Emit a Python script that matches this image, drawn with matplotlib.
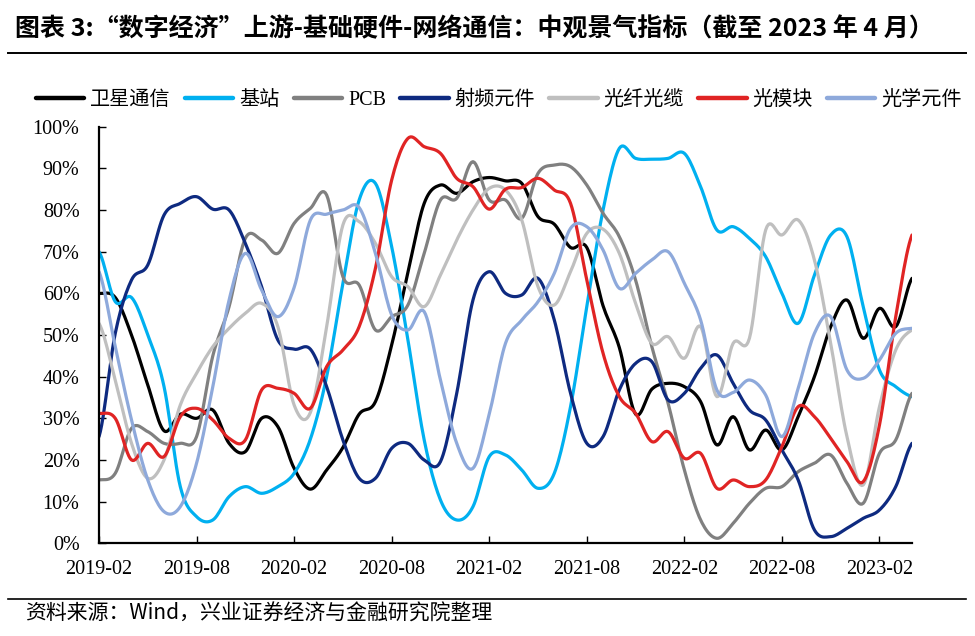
import numpy as np
import matplotlib
matplotlib.use("Agg")
import matplotlib.pyplot as plt
from matplotlib.lines import Line2D

plt.rcParams['font.family'] = ['Noto Sans CJK SC', 'DejaVu Sans']

# monthly values, 2019-02 .. 2023-04 (51 months), in %
sat = [60, 59, 50, 38, 27, 31, 30, 32, 24, 22, 30, 28, 18, 13, 17.6, 23, 31, 34, 47.6, 65,
       81.6, 86, 84, 86.8, 87.8, 87, 86.4, 78.4, 76.6, 71, 71, 57, 47, 31, 37, 38.4, 37.6, 34,
       23.6, 30.4, 22.4, 27.2, 22.4, 30.4, 40, 52, 58.4, 49.2, 56.4, 52, 63.6]
base = [70, 58, 59, 50, 37.6, 13.6, 6.4, 5.6, 11.2, 13.6, 12, 13.6, 16.8, 25, 40, 62.4, 82.4,
        86.4, 71.2, 48.8, 24.8, 10.4, 5.6, 8.8, 20.8, 21.2, 17.6, 13.2, 16.8, 32.8, 56.8, 80,
        94.8, 92.4, 92.2, 92.4, 93.6, 85.6, 75.2, 76, 73.2, 68.8, 60, 52.8, 64.4, 74, 73.6,
        56.8, 41.6, 37.6, 35.2]
pcb = [15.2, 16.8, 27.6, 26.8, 24, 24, 25.6, 45, 56.8, 73.2, 72.8, 69.6, 76.8, 80.4, 83.6, 64,
       62, 51.2, 54.4, 57.2, 69.6, 82.4, 82.8, 91.6, 82.4, 82.4, 78, 88.8, 90.8, 90.4, 86, 79.2,
       73.6, 63.2, 47.2, 33.6, 17.6, 5.6, 1.2, 4.8, 9.6, 13.2, 13.6, 17.2, 19.2, 21.2, 14.4,
       9.6, 21.6, 24.8, 36]
rf = [25.6, 50.4, 63.2, 66.8, 78.8, 81.6, 83.2, 80.2, 80, 72, 61.6, 48.8, 46.6, 46.6, 37.6,
      24.8, 15.6, 15.6, 22.8, 24, 20, 19.6, 36, 58.4, 65.2, 60, 59.6, 63.6, 53.6, 36, 24, 25.6,
      36.8, 43.2, 43.6, 34.4, 36, 42, 45.2, 38.4, 32, 29.6, 22.4, 15.2, 3.2, 1.6, 3.6, 6, 8,
      13.6, 24]
fiber = [52.8, 39.2, 24, 15.6, 20, 33.2, 40.8, 47.2, 51.6, 55.2, 57.6, 52, 33.2, 31.4, 52,
         76.4, 77.2, 72, 64, 61.6, 56.8, 64.4, 72.8, 80, 85.2, 84.8, 77.6, 61.6, 57.2, 65.2,
         74.4, 75.4, 69.6, 57.6, 48, 49.6, 44.4, 52, 35.2, 48, 49.2, 75.2, 74, 77.6, 68, 48,
         25.6, 14, 32.8, 46.4, 51.2]
module = [31.2, 30, 20, 24, 20.8, 30.4, 32.4, 29.6, 25.2, 24.8, 36.8, 37.2, 36, 32.4, 42.4,
          46.4, 52, 66, 87.2, 97.2, 95.2, 93.6, 87.6, 85.6, 80.2, 85, 85.4, 87.6, 84.8, 81.6,
          63.2, 45.6, 35.2, 31.2, 24.4, 26.8, 20.4, 21.6, 13.2, 15.2, 13.6, 15.2, 23.2, 32.8,
          30.4, 25.2, 19.6, 14.8, 28.4, 54.4, 74]
optic = [65.2, 47.2, 29.6, 15.2, 7.6, 8.8, 19.2, 37.6, 58.4, 69.6, 60.8, 54.4, 61.4, 77.6, 79,
         80, 80.6, 69.6, 54.8, 51.2, 55.6, 39.2, 24, 18, 31, 48, 53.6, 58, 64.8, 75.6, 76,
         70.4, 61.2, 64.8, 68, 70, 62.4, 53.6, 36.8, 36.2, 39.2, 35.6, 25.6, 37.2, 50.4, 54.4,
         41.6, 39.6, 44, 50.4, 51.6]

names = ['卫星通信', '基站', 'PCB', '射频元件', '光纤光缆', '光模块', '光学元件']
colors = ['#000000', '#00B0F0', '#808080', '#0E2A80', '#BFBFBF', '#E02424', '#8EA9DB']
xlabels = ['2019-02', '2019-08', '2020-02', '2020-08', '2021-02',
           '2021-08', '2022-02', '2022-08', '2023-02']


def smooth(y, n=12):
    # catmull-rom, like excel's smoothed line
    y = np.asarray(y, float) / 100
    p = np.concatenate([[y[0]], y, [y[-1]]])
    t = np.linspace(0, 1, n, endpoint=False)
    out = []
    for i in range(len(y) - 1):
        p0, p1, p2, p3 = p[i], p[i + 1], p[i + 2], p[i + 3]
        out.append(0.5 * (2 * p1 + (-p0 + p2) * t + (2 * p0 - 5 * p1 + 4 * p2 - p3) * t ** 2
                          + (-p0 + 3 * p1 - 3 * p2 + p3) * t ** 3))
    out.append([y[-1]])
    xs = np.concatenate([i + t for i in range(len(y) - 1)] + [[len(y) - 1]])
    return xs, np.concatenate(out)


fig = plt.figure(figsize=(9.75, 6.36), dpi=100)
ax = fig.add_axes([99 / 975, 1 - 543.3 / 636, (912 - 99) / 975, (543.3 - 126.7) / 636])

series = [sat, base, pcb, rf, fiber, module, optic]
for vals, name, c in zip(series, names, colors):
    xs, ys = smooth(vals)
    ax.plot(xs, ys, color=c, lw=2.3, label=name, solid_capstyle='round')

ax.set_xlim(0, len(sat) - 1)
ax.set_ylim(0, 1)
ax.set_xticks(range(0, 49, 6))
ax.set_xticklabels(xlabels)
ax.set_yticks(np.linspace(0, 1, 11))
ax.set_yticklabels(['%d%%' % v for v in range(0, 101, 10)])
for lab in ax.get_xticklabels() + ax.get_yticklabels():
    lab.set_fontfamily('Liberation Serif')
    lab.set_fontsize(14.5)
ax.tick_params(axis='y', direction='in', length=5, width=1, pad=14)
ax.tick_params(axis='x', direction='in', length=5, width=1, pad=12)
for s in ['top', 'right']:
    ax.spines[s].set_visible(False)
for s in ['left', 'bottom']:
    ax.spines[s].set_linewidth(1.6)
    ax.spines[s].set_color('black')

handles, labels = ax.get_legend_handles_labels()
leg = fig.legend(handles, labels, loc='center', bbox_to_anchor=(499 / 975, 1 - 100 / 636),
                 ncol=7, frameon=False,
                 prop={'size': 14.5, 'family': ['Liberation Serif', 'Noto Sans CJK SC']},
                 handlelength=2.4, handletextpad=0.3, columnspacing=0.7)
for h in leg.get_lines():
    h.set_linewidth(3.2)

fig.text(15 / 975, 1 - 29 / 636, '图表 3:“数字经济”上游-基础硬件-网络通信：中观景气指标（截至 2023 年 4 月）',
         fontsize=18, fontweight='bold', va='center', ha='left')
fig.add_artist(Line2D([8 / 975, 966 / 975], [1 - 53 / 636] * 2, color='black', lw=1.4))
fig.add_artist(Line2D([8 / 975, 966 / 975], [1 - 599 / 636] * 2, color='black', lw=1.2))
fig.text(25 / 975, 1 - 614 / 636, '资料来源：Wind，兴业证券经济与金融研究院整理',
         fontsize=15, va='center', ha='left')

fig.savefig('out.png', dpi=100, facecolor='white')
